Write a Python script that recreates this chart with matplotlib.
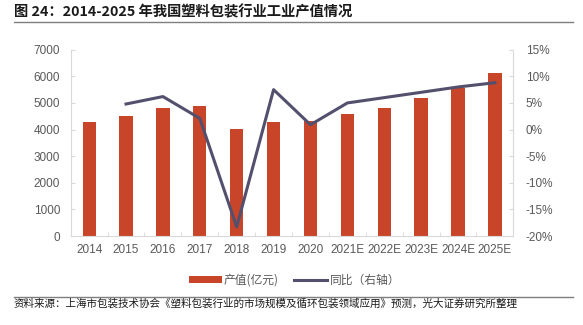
import matplotlib
matplotlib.use("Agg")
import matplotlib.pyplot as plt
from matplotlib.lines import Line2D
from matplotlib.patches import Patch
import numpy as np

plt.rcParams['font.family'] = ['Noto Sans CJK SC', 'DejaVu Sans']

categories = ["2014", "2015", "2016", "2017", "2018", "2019", "2020",
              "2021E", "2022E", "2023E", "2024E", "2025E"]
output_value = [4300, 4510, 4800, 4900, 4010, 4300, 4330,
                4570, 4820, 5170, 5570, 6110]
yoy = [np.nan, 4.8, 6.2, 2.1, -18.3, 7.5, 0.9, 5.0, 6.0, 7.0, 8.0, 8.8]

bar_color = "#C8452A"
line_color = "#53506E"
axis_color = "#D9D9D9"
text_color = "#595959"
tick_font = ['Liberation Sans', 'DejaVu Sans']

fig = plt.figure(figsize=(5.83, 3.25), dpi=100)
ax = fig.add_axes([0.1213, 0.2738, 0.7592, 0.5732])
x = np.arange(len(categories))
ax.bar(x, output_value, width=0.36, color=bar_color, zorder=2)
ax.set_xlim(-0.5, len(categories) - 0.5)
ax.set_ylim(0, 7000)
ax.set_yticks(np.arange(0, 7001, 1000))
ax.set_xticks(x)
ax.set_xticklabels(categories)
ax.set_xticks(np.arange(0.5, len(categories) - 1, 1), minor=True)
ax.tick_params(axis='x', which='major', length=0, pad=6, labelsize=8.5, colors=text_color)
ax.tick_params(axis='x', which='minor', length=3, direction='in', color=axis_color)
ax.tick_params(axis='y', length=3, direction='in', color=axis_color, labelsize=8.5,
               labelcolor=text_color, pad=7.5)
for s in ['top', 'right']:
    ax.spines[s].set_visible(False)
for s in ['left', 'bottom']:
    ax.spines[s].set_color(axis_color)

ax2 = ax.twinx()
ax2.plot(x, yoy, color=line_color, linewidth=2.2, zorder=3)
ax2.set_ylim(-20, 15)
ax2.set_yticks(np.arange(-20, 16, 5))
ax2.set_yticklabels([f"{v}%" for v in range(-20, 16, 5)])
ax2.tick_params(axis='y', length=3, direction='in', color=axis_color, labelsize=8.5,
                labelcolor=text_color, pad=9)
for s in ['top', 'left', 'bottom']:
    ax2.spines[s].set_visible(False)
ax2.spines['right'].set_color(axis_color)

for lab in ax.get_xticklabels() + ax.get_yticklabels() + ax2.get_yticklabels():
    lab.set_family(tick_font)

handles = [Patch(facecolor=bar_color, edgecolor='none'),
           Line2D([0], [0], color=line_color, linewidth=2.2)]
fig.legend(handles, ["产值(亿元)", "同比（右轴）"], loc='center',
           bbox_to_anchor=(0.505, 1 - 280 / 325), ncol=2, frameon=False,
           fontsize=8.5, labelcolor=text_color, handlelength=2.8,
           handleheight=0.55, columnspacing=1.3, handletextpad=0.2)

fig.text(0.024, 1 - 12.5 / 325, "图 24：2014-2025 年我国塑料包装行业工业产值情况",
         fontsize=10.3, fontweight='bold', va='center', ha='left', color='#1a1a1a')
fig.add_artist(Line2D([0.024, 0.982], [1 - 21.5 / 325, 1 - 21.5 / 325],
                      color='#7f7f7f', linewidth=1.0))
fig.add_artist(Line2D([0.024, 0.982], [1 - 296.5 / 325, 1 - 296.5 / 325],
                      color='#7f7f7f', linewidth=1.0))
fig.text(0.024, 1 - 303.5 / 325,
         "资料来源：上海市包装技术协会《塑料包装行业的市场规模及循环包装领域应用》预测，光大证券研究所整理",
         fontsize=7.6, va='center', ha='left', color='#1a1a1a')

fig.savefig("out.png", dpi=100)
